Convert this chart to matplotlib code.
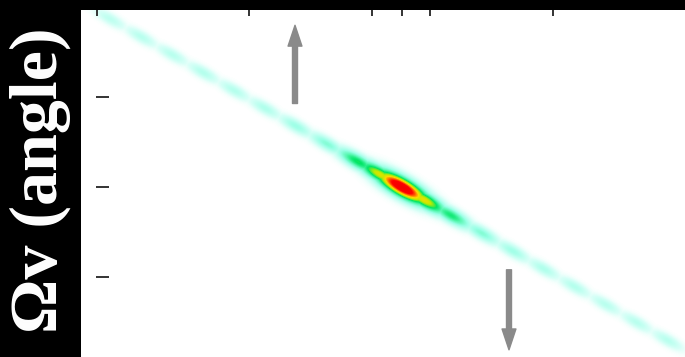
import numpy as np
import matplotlib
matplotlib.use('Agg')
import matplotlib.pyplot as plt
from matplotlib.colors import LinearSegmentedColormap

# band blobs along the diagonal: x position (phase) and relative density
blob_x = [-2.92, -2.61, -2.30, -1.99, -1.68, -1.37, -1.06, -0.75, -0.44,
          -0.22, 0.0, 0.22, 0.49, 0.80, 1.11, 1.42, 1.73,
          2.04, 2.35, 2.66]
blob_level = [0.12, 0.13, 0.13, 0.14, 0.14, 0.15, 0.19, 0.24, 0.46,
              0.62, 1.0, 0.64, 0.42, 0.24, 0.18, 0.15, 0.14,
              0.13, 0.13, 0.13]
band_slope = -0.642

x_ticks = [-3.05, -1.53, -0.30, 0.0, 0.28, 1.51]
y_ticks = [-1, 0, 1]
x_lim = (-3.21, 2.83)
y_lim = (-1.89, 1.97)

# arrows: (x, tail y, tip y)
arrows = [(-1.07, 0.93, 1.80), (1.07, -0.92, -1.81)]

cmap = LinearSegmentedColormap.from_list('dens', [
    (0.0, (1, 1, 1)), (0.06, (0.85, 1.0, 0.97)), (0.2, (0.60, 1.0, 0.90)),
    (0.32, (0.35, 0.97, 0.70)), (0.45, (0.0, 0.90, 0.40)),
    (0.58, (0.75, 0.92, 0.0)), (0.67, (1.0, 0.85, 0.0)),
    (0.78, (1.0, 0.35, 0.0)), (0.86, (1.0, 0.0, 0.0)), (1.0, (0.95, 0.0, 0.0))])

def density_image():
    xs = np.linspace(x_lim[0], x_lim[1], 604)
    ys = np.linspace(y_lim[0], y_lim[1], 347)
    X, Y = np.meshgrid(xs, ys)
    u = np.array([100.0, band_slope * 90.0])
    u = u / np.hypot(*u)
    img = np.zeros_like(X)
    for bx, lv in zip(blob_x, blob_level):
        dx = (X - bx) * 100.0
        dy = (Y - band_slope * bx) * 90.0
        along = dx * u[0] + dy * u[1]
        perp = -dx * u[1] + dy * u[0]
        sp = 3.6 + 2.8 * lv
        sa = 11.0 + 10.0 * lv
        img = np.maximum(img, lv * np.exp(-along**2 / (2 * sa**2) - perp**2 / (2 * sp**2)))
    return img

fig = plt.figure(figsize=(6.85, 3.57), dpi=100, facecolor='black')
ax = fig.add_axes([81 / 685, 0, 604 / 685, 347 / 357])
ax.set_facecolor('white')
ax.imshow(density_image(), origin='lower', extent=(*x_lim, *y_lim),
          cmap=cmap, vmin=0, vmax=1, aspect='auto', interpolation='bilinear')
ax.set_xlim(*x_lim)
ax.set_ylim(*y_lim)

for x, y0, y1 in arrows:
    ax.annotate('', xy=(x, y1), xytext=(x, y0),
                arrowprops=dict(width=3.6, headwidth=10, headlength=15,
                                color='#8a8a8a', shrink=0))

for s in ax.spines.values():
    s.set_visible(False)
ax.spines['left'].set_position(('axes', 15 / 604))
ax.xaxis.tick_top()
ax.set_xticks(x_ticks)
ax.set_yticks(y_ticks)
ax.set_xticklabels([])
ax.set_yticklabels([])
ax.tick_params(axis='x', direction='in', length=4.3, width=1.4, color='#333333')
ax.tick_params(axis='y', direction='in', length=9.4, width=1.4, color='#333333')

fig.text(0.058, 1 - 180 / 357, 'Ωv (angle)', rotation=90, ha='center', va='center',
         color='white', fontsize=49, fontweight='bold',
         family=['Liberation Serif', 'DejaVu Serif'])

fig.savefig('out.png', dpi=100, facecolor='black')
